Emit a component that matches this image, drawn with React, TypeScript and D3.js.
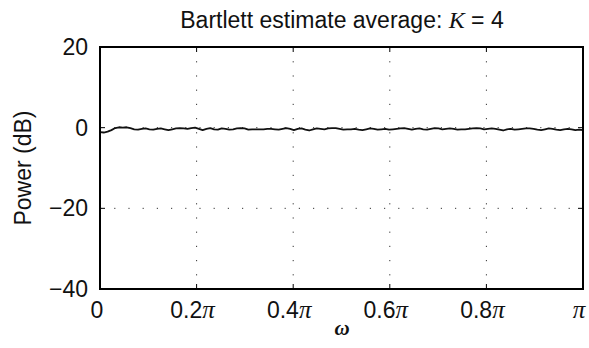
import React from "react";
import * as d3 from "d3";

const W = 589;
const H = 348;

const xTickValues = [0, 0.2, 0.4, 0.6, 0.8, 1];
const xTickLabels = ["0", "0.2", "0.4", "0.6", "0.8", ""];
const yTickValues = [20, 0, -20, -40];
const yTickLabels = ["20", "0", "\u221220", "\u221240"];

const powerDb = [
  -1.1, -1.2, -1.0, -0.6, -0.1, 0.1, 0.0, 0.1, -0.1, -0.4, -0.5, -0.3, -0.2, -0.4, -0.5, -0.3,
  -0.2, -0.4, -0.6, -0.4, -0.2, -0.1, -0.2, -0.3, -0.1, 0.0, -0.3, -0.6, -0.3, -0.1, -0.4, -0.5,
  -0.2, -0.3, -0.5, -0.4, -0.2, -0.1, -0.2, -0.5, -0.4, -0.4, -0.4, -0.4, -0.3, -0.3, -0.4, -0.5,
  -0.3, -0.1, -0.3, -0.6, -0.3, -0.2, -0.5, -0.7, -0.4, -0.2, -0.3, -0.4, -0.2, -0.1, -0.1, -0.3,
  -0.5, -0.4, -0.4, -0.3, -0.5, -0.6, -0.4, -0.2, -0.3, -0.5, -0.4, -0.3, -0.5, -0.4, -0.3, -0.2,
  -0.1, -0.3, -0.5, -0.3, -0.2, -0.4, -0.5, -0.3, -0.1, -0.2, -0.4, -0.3, -0.2, -0.3, -0.5, -0.4,
  -0.4, -0.3, -0.2, -0.1, -0.2, -0.4, -0.3, -0.2, -0.3, -0.5, -0.7, -0.4, -0.3, -0.5, -0.4, -0.3,
  -0.2, -0.2, -0.3, -0.5, -0.6, -0.4, -0.2, -0.3, -0.5, -0.6, -0.4, -0.3, -0.4, -0.6, -0.5, -0.6,
];

const margin = { left: 100, right: 6, top: 47, bottom: 59 };

export default function App() {
  const x = d3.scaleLinear().domain([0, 1]).range([margin.left, W - margin.right]);
  const y = d3.scaleLinear().domain([-40, 20]).range([H - margin.bottom, margin.top]);
  const n = powerDb.length;
  const line = d3
    .line<number>()
    .x((_, i) => x(i / (n - 1)))
    .y((d) => y(d));

  const font = "'Liberation Sans', Arial, Helvetica, sans-serif";
  const serif = "'Liberation Serif', 'Times New Roman', serif";
  const x0 = x(0), x1 = x(1), yTop = y(20), yBot = y(-40);
  const tickLen = 5;
  const fs = 23;

  return (
    <svg
      width={W}
      height={H}
      style={{ position: "absolute", left: 0, top: 0, background: "#fff" }}
      fontFamily={font}
    >
      <rect x={0} y={0} width={W} height={H} fill="#fff" />
      {/* grid */}
      {xTickValues.slice(1, -1).map((v) => (
        <line key={"gx" + v} x1={x(v)} x2={x(v)} y1={yTop} y2={yBot} stroke="#333" strokeWidth={1} strokeDasharray="1.2 13" />
      ))}
      {yTickValues.slice(1, -1).map((v) => (
        <line key={"gy" + v} x1={x0} x2={x1} y1={y(v)} y2={y(v)} stroke="#333" strokeWidth={1} strokeDasharray="1.2 13" />
      ))}
      {/* ticks */}
      {xTickValues.map((v) => (
        <g key={"tx" + v}>
          <line x1={x(v)} x2={x(v)} y1={yBot} y2={yBot - tickLen} stroke="#000" strokeWidth={1} />
          <line x1={x(v)} x2={x(v)} y1={yTop} y2={yTop + tickLen} stroke="#000" strokeWidth={1} />
        </g>
      ))}
      {yTickValues.map((v) => (
        <g key={"ty" + v}>
          <line x1={x0} x2={x0 + tickLen} y1={y(v)} y2={y(v)} stroke="#000" strokeWidth={1} />
          <line x1={x1} x2={x1 - tickLen} y1={y(v)} y2={y(v)} stroke="#000" strokeWidth={1} />
        </g>
      ))}
      {/* data line */}
      <path d={line(powerDb) || ""} fill="none" stroke="#111" strokeWidth={1.8} strokeLinejoin="round" />
      {/* box */}
      <rect x={x0} y={yTop} width={x1 - x0} height={yBot - yTop} fill="none" stroke="#000" strokeWidth={2} />
      {/* y tick labels */}
      {yTickValues.map((v, i) => (
        <text key={"yl" + v} x={x0 - 12} y={y(v) + 8} textAnchor="end" fontSize={fs} fill="#111">
          {yTickLabels[i]}
        </text>
      ))}
      {/* x tick labels */}
      {xTickValues.map((v, i) => (
        <text key={"xl" + v} x={x(v) - (v > 0 ? 4 : 3)} y={yBot + 29} textAnchor="middle" fontSize={fs} fill="#111">
          {xTickLabels[i]}
          {v > 0 ? (
            <tspan fontFamily={serif} fontStyle="italic" fontSize={fs + 2}>
              {"\u03c0"}
            </tspan>
          ) : null}
        </text>
      ))}
      {/* title */}
      <text x={342} y={28} textAnchor="middle" fontSize={fs} fill="#111">
        Bartlett estimate average:{" "}
        <tspan fontFamily={serif} fontStyle="italic" fontSize={fs + 1}>K</tspan>
        {" = 4"}
      </text>
      {/* axis labels */}
      <text x={342} y={335} textAnchor="middle" fontSize={21} fontFamily={serif} fontStyle="italic" fontWeight="bold" fill="#111">
        {"\u03c9"}
      </text>
      <text transform={`translate(31, ${(yTop + yBot) / 2}) rotate(-90)`} textAnchor="middle" fontSize={fs} fill="#111">
        Power (dB)
      </text>
    </svg>
  );
}
